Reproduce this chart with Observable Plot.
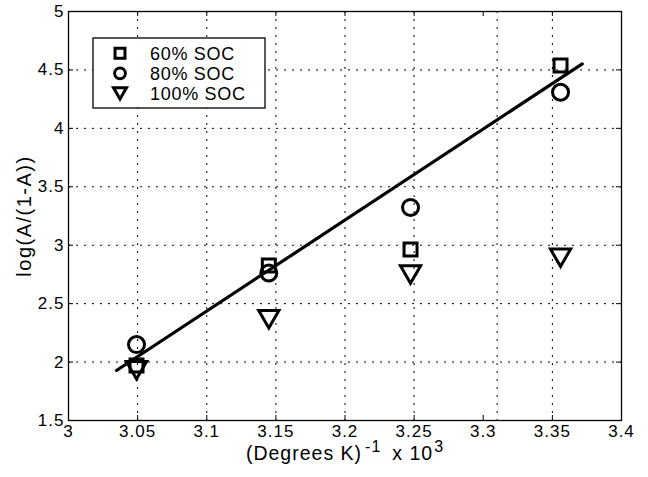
<!DOCTYPE html>
<html><head><meta charset="utf-8">
<script src="https://cdn.jsdelivr.net/npm/d3@7"></script>
<script src="https://cdn.jsdelivr.net/npm/@observablehq/plot@0.6"></script>
<style>
html,body{margin:0;padding:0;background:#fff;}
#chart{width:648px;height:477px;}
#chart svg [aria-label="x-axis tick label"] text,
#chart svg [aria-label="y-axis tick label"] text{letter-spacing:1px;}
</style></head><body><div id="chart"></div>
<script>
// ---- data ----
const xValues = [3.0492, 3.1449, 3.2474, 3.3559];
const series = ["60% SOC", "80% SOC", "100% SOC"];
const soc60 = [1.97, 2.826, 2.963, 4.538];
const soc80 = [2.15, 2.762, 3.323, 4.309];
const soc100 = [1.936, 2.373, 2.755, 2.898];
const fitX = [3.0347, 3.3716];
const fitY = [1.928, 4.552];
const xTicks = [3, 3.05, 3.1, 3.15, 3.2, 3.25, 3.3, 3.35, 3.4];
const yTicks = [1.5, 2, 2.5, 3, 3.5, 4, 4.5, 5];
const xGrid = [3.05, 3.1, 3.15, 3.2, 3.25, 3.31, 3.35];
const yGrid = [2, 2.5, 3, 3.5, 4, 4.5];
const xLabelParts = [["(Degrees K)", false], ["-1", true], ["x 10", false], ["3", true]];
const yLabel = "log(A/(1-A))";

// ---- build ----
const W = 648, H = 477;
const mL = 68, mR = 27, mT = 11, mB = 57;
const plotW = W - mL - mR, plotH = H - mT - mB;
const font = "'Liberation Sans', Arial, Helvetica, sans-serif";
const symbols = ["square", "circle", "triangle"];
const sizes = [7.33, 8, 7.5];
const seriesValues = [soc60, soc80, soc100];
const pts = series.map((s, i) => xValues.map((x, j) => ({x, y: seriesValues[i][j], s})));
const fit = fitX.map((x, i) => ({x, y: fitY[i]}));
const xLabelFlat = xLabelParts.map(d => d[0]).join("");
const fmt = d => String(d);
const triShift = r => -(r * Math.sqrt(Math.PI) * 0.6824) / 4;

const dotMarks = series.map((s, i) => Plot.dot(pts[i], {
  x: "x", y: "y", symbol: symbols[i], r: sizes[i],
  rotate: i === 2 ? 180 : 0, dy: i === 2 ? triShift(sizes[i]) : 0,
  stroke: "black", strokeWidth: 3, fill: "none"
}));

const chart = Plot.plot({
  width: W, height: H,
  marginLeft: mL, marginRight: mR, marginTop: mT, marginBottom: mB,
  style: {fontFamily: font, fontSize: "17px", background: "white", color: "black"},
  x: {domain: [3, 3.4]},
  y: {domain: [1.5, 5]},
  marks: [
    Plot.gridX(xGrid, {stroke: "black", strokeOpacity: 1, strokeWidth: 1, strokeDasharray: "2,6"}),
    Plot.gridY(yGrid, {stroke: "black", strokeOpacity: 1, strokeWidth: 1, strokeDasharray: "2,6"}),
    Plot.tickX(xTicks, {x: d => d, insetTop: plotH - 5, stroke: "black"}),
    Plot.tickX(xTicks, {x: d => d, insetBottom: plotH - 5, stroke: "black"}),
    Plot.tickY(yTicks, {y: d => d, insetRight: plotW - 5, stroke: "black"}),
    Plot.tickY(yTicks, {y: d => d, insetLeft: plotW - 5, stroke: "black"}),
    Plot.axisX({ticks: xTicks, tickSize: 0, tickPadding: 4.5, tickFormat: fmt, label: null, fontSize: 17}),
    Plot.axisY({ticks: yTicks, tickSize: 0, tickPadding: 4, tickFormat: fmt, label: null, fontSize: 17}),
    Plot.frame({stroke: "black", strokeWidth: 1.3}),
    Plot.line(fit, {x: "x", y: "y", stroke: "black", strokeWidth: 3.2}),
    ...dotMarks,
    Plot.text([yLabel], {text: d => d, frameAnchor: "left", textAnchor: "middle", dx: -43.6, rotate: -90, fontSize: 20, fill: "black"}),
    Plot.text([xLabelFlat], {text: d => d, frameAnchor: "bottom", textAnchor: "middle", dy: 39, fontSize: 19.5, fill: "black"})
  ]
});
document.getElementById("chart").appendChild(chart);

const svg = d3.select(chart);
svg.selectAll("text").filter(function() { return this.textContent === yLabel; })
  .style("letter-spacing", "1.5px");
// superscripts in x label
const supShift = 8;
svg.selectAll("text").filter(function() { return this.textContent === xLabelFlat; })
  .each(function() {
    const t = d3.select(this);
    t.text(null).style("letter-spacing", "1px");
    const gaps = [0, 3, 11, 1];
    let raised = false;
    xLabelParts.forEach(([str, sup], k) => {
      const ts = t.append("tspan").text(str).attr("dx", gaps[k]);
      if (sup) {
        ts.attr("font-size", 16);
        if (!raised) { ts.attr("dy", -supShift); raised = true; }
      } else if (raised) {
        ts.attr("dy", supShift); raised = false;
      }
    });
  });

// legend
const lg = svg.append("g").attr("font-family", font).attr("text-anchor", "start");
lg.append("rect").attr("x", 93).attr("y", 38).attr("width", 172).attr("height", 70)
  .attr("fill", "white").attr("stroke", "black").attr("stroke-width", 1.3);
const legendR = [5.6, 5.4, 6.2];
const symTypes = [d3.symbolSquare, d3.symbolCircle, d3.symbolTriangle2];
series.forEach((s, i) => {
  const cy = 53.3 + i * 20;
  const r = legendR[i];
  const shift = i === 2 ? triShift(r) : 0;
  lg.append("path")
    .attr("d", d3.symbol(symTypes[i], Math.PI * r * r)())
    .attr("transform", `translate(120,${cy + shift}) rotate(${i === 2 ? 180 : 0})`)
    .attr("fill", "none").attr("stroke", "black").attr("stroke-width", 3);
  lg.append("text").attr("x", 150).attr("y", cy + 6.4)
    .attr("font-size", 18).style("letter-spacing", "0.7px").attr("fill", "black").text(s);
});
</script></body></html>
